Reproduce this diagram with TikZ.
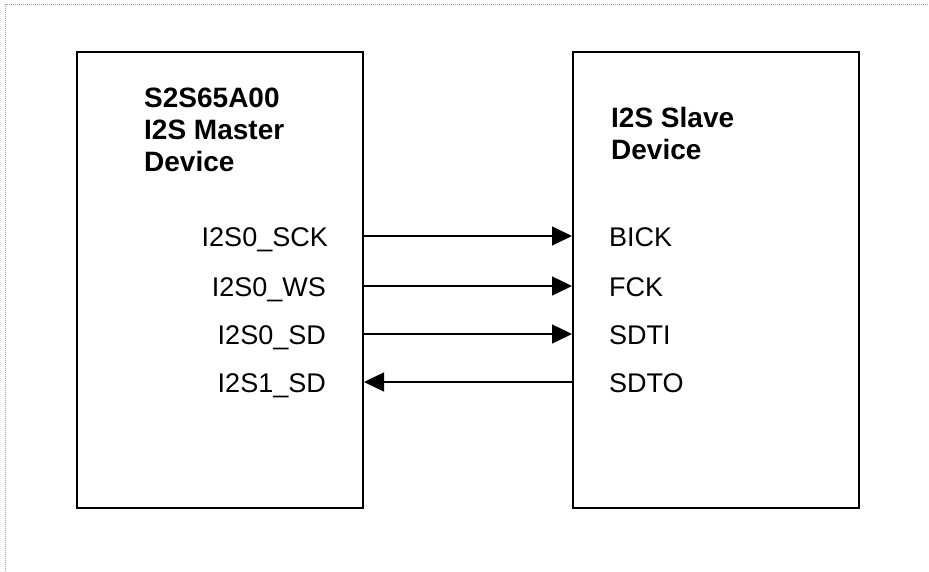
\documentclass[tikz,border=0pt]{standalone}
\usepackage{fontspec}
\setmainfont{Liberation Sans}
\usetikzlibrary{arrows.meta}
\begin{document}
\begin{tikzpicture}[x=1pt,y=1pt,
  blk/.style={draw,line width=2pt,inner sep=0pt,minimum width=286pt,minimum height=456pt},
  ttl/.style={anchor=base west,inner sep=0pt,font=\fontsize{28}{32}\selectfont\bfseries},
  lbl/.style={inner sep=0pt,font=\fontsize{27}{31}\selectfont},
  sig/.style={line width=1.3pt,-{Triangle[length=20pt,width=19pt]}},
  frame/.style={gray!70,line width=0.8pt,dash pattern=on 1pt off 1pt}]
\useasboundingbox (0,0) rectangle (929,571);
\draw[frame] (5.5,0) -- (5.5,566.5) -- (929,566.5);
\node[blk] (m) at (220,291) {};
\node[blk] (s) at (716,291) {};
\node[ttl] (t1) at (144,463) {S2S65A00};
\node[ttl] (t2) at (144,431) {I2S Master};
\node[ttl] (t3) at (144,399) {Device};
\node[ttl] (r1) at (611,443) {I2S Slave};
\node[ttl] (r2) at (611,411) {Device};
\coordinate (y1) at (0,335);
\coordinate (y2) at (0,285);
\coordinate (y3) at (0,237);
\coordinate (y4) at (0,189);
\node[lbl,anchor=base east] (a1) at (328,324.5) {I2S0\_SCK};
\node[lbl,anchor=base east] (a2) at (326,274.5) {I2S0\_WS};
\node[lbl,anchor=base east] (a3) at (326,226.5) {I2S0\_SD};
\node[lbl,anchor=base east] (a4) at (326,178.5) {I2S1\_SD};
\node[lbl,anchor=base west] (b1) at (609,324.5) {BICK};
\node[lbl,anchor=base west] (b2) at (609,274.5) {FCK};
\node[lbl,anchor=base west] (b3) at (609,226.5) {SDTI};
\node[lbl,anchor=base west] (b4) at (609,178.5) {SDTO};
\draw[sig] (m.east |- y1) -- (s.west |- y1);
\draw[sig] (m.east |- y2) -- (s.west |- y2);
\draw[sig] (m.east |- y3) -- (s.west |- y3);
\draw[sig] (s.west |- y4) -- (m.east |- y4);
\end{tikzpicture}
\end{document}
